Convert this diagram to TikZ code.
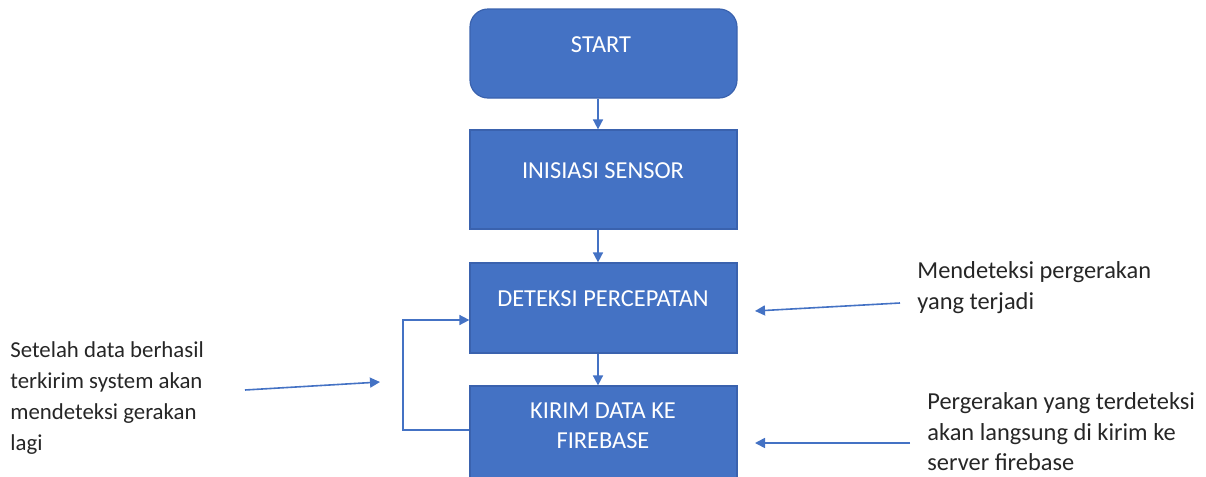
\documentclass[tikz,border=0pt]{standalone}
\usepackage{fontspec}
\setmainfont{Carlito}
\usetikzlibrary{arrows.meta}
\definecolor{boxblue}{HTML}{4472C4}
\definecolor{boxedge}{HTML}{3A62AE}
\tikzset{
  flowbox/.style={draw=boxedge, line width=0.6pt, fill=boxblue, minimum width=133.5pt, inner sep=0pt},
  boxtext/.style={text=white, font=\fontsize{12.2}{15}\selectfont, align=center, inner sep=0pt},
  note/.style={text=black!85, font=\fontsize{11.4}{15.5}\selectfont, align=left, anchor=north west, inner sep=0pt},
  bignote/.style={note, font=\fontsize{12.2}{15.4}\selectfont},
  conn/.style={draw=boxblue, line width=0.8pt, -{Triangle[length=5pt,width=5pt]}}
}
\begin{document}
\begin{tikzpicture}[x=0.5pt,y=-0.5pt]
\useasboundingbox (0,0) rectangle (1206,477);
% boxes
\node[flowbox, rounded corners=9pt, minimum height=44.5pt] (start) at (603.5,53.5) {};
\node[flowbox, minimum height=49.5pt] (inis) at (603.5,179.5) {};
\node[flowbox, minimum height=45pt] (det) at (603.5,308) {};
\node[flowbox, minimum height=48pt] (kirim) at (603.5,434) {};
% box texts
\node[boxtext] (tstart) at (601,45) {START};
\node[boxtext] (tinis) at (603,171) {INISIASI SENSOR};
\node[boxtext] (tdet) at (603,299) {DETEKSI PERCEPATAN};
\node[boxtext] (tkirim) at (603,426) {KIRIM DATA KE\\FIREBASE};
% flow arrows
\draw[conn] (start.south -| 598,0) -- (inis.north -| 598,0);
\draw[conn] (inis.south -| 598,0) -- (det.north -| 598,0);
\draw[conn] (det.south -| 598,0) -- (kirim.north -| 598,0);
% loop back
\coordinate (loopL) at (403,430);
\draw[conn] (kirim.west |- loopL) -- (loopL) |- ([yshift=-6pt]det.west);
% notes
\node[note] (nleft) at (10,341) {Setelah data berhasil\\terkirim system akan\\mendeteksi gerakan\\lagi};
\node[bignote] (nrt) at (917,261) {Mendeteksi pergerakan\\yang terjadi};
\node[bignote] (nrb) at (927,392) {Pergerakan yang terdeteksi\\akan langsung di kirim ke\\server firebase};
% note arrows
\coordinate (aL1) at (245,390);
\coordinate (aL2) at (380,382);
\coordinate (aR1) at (900,303);
\coordinate (aR2) at (755,311);
\coordinate (aB1) at (910,443);
\coordinate (aB2) at (755,443);
\draw[conn] (aL1) -- (aL2);
\draw[conn] (aR1) -- (aR2);
\draw[conn] (aB1) -- (aB2);
\end{tikzpicture}
\end{document}
